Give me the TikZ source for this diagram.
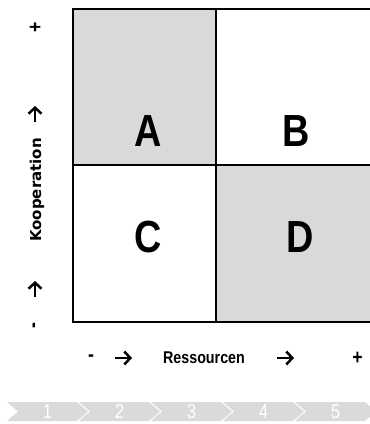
\documentclass[tikz,border=0pt]{standalone}
\usepackage{fontspec}
\setmainfont{Liberation Sans}
\newfontfamily\narrowfont{Liberation Sans}[FakeStretch=0.84]
\newfontfamily\wideboldfont{DejaVu Sans}
\usepackage{tikz}
\usetikzlibrary{arrows.meta, positioning}
\definecolor{cellgray}{HTML}{D9D9D9}
\definecolor{chevgray}{HTML}{DADADA}

\begin{document}
\begin{tikzpicture}[
  x=1pt, y=-1pt,
  cell/.style={draw=black, line width=1.8pt, inner sep=0pt, anchor=north west},
  letter/.style={font=\narrowfont\bfseries\fontsize{45}{45}\selectfont, inner sep=0pt},
  axtext/.style={font=\narrowfont\bfseries\fontsize{17}{17}\selectfont, inner sep=0pt},
  axsign/.style={font=\narrowfont\bfseries\fontsize{21}{21}\selectfont, inner sep=0pt},
  axname/.style={font=\wideboldfont\bfseries\fontsize{15}{15}\selectfont, inner sep=0pt},
  axarrow/.style={line width=2.5pt, -{Straight Barb[length=6pt, width=13pt, line width=2.5pt]}},
  chev/.style={fill=chevgray},
  chevnum/.style={text=white, inner sep=0pt, font=\narrowfont\fontsize{20}{20}\selectfont}
]
\useasboundingbox (0,0) rectangle (370,424);

% Matrix cells
\node[cell, fill=cellgray, minimum width=143pt, minimum height=156pt] (cA) at (72,8) {};
\node[cell, minimum width=160pt, minimum height=156pt] (cB) at (215,8) {};
\node[cell, minimum width=143pt, minimum height=157pt] (cC) at (72,164) {};
\node[cell, fill=cellgray, minimum width=160pt, minimum height=157pt] (cD) at (215,164) {};

\node[letter] (lA) at (148,131) {A};
\node[letter] (lB) at (296,131) {B};
\node[letter] (lC) at (148,237) {C};
\node[letter] (lD) at (300,237) {D};

% Vertical axis
\node[axsign, rotate=90] (vplus) at (36,27.5) {+};
\node[axname, rotate=90] (vname) at (37,190) {Kooperation};
\node[axsign, rotate=90] (vminus) at (36,326) {-};
\coordinate (vu1s) at (35,122);
\coordinate (vu1e) at (35,106);
\coordinate (vu2s) at (35,297);
\coordinate (vu2e) at (35,281);
\draw[axarrow] (vu1s) -- (vu1e);
\draw[axarrow] (vu2s) -- (vu2e);

% Horizontal axis
\node[axsign] (hminus) at (91,358) {-};
\node[axtext] (hname) at (204,358) {Ressourcen};
\node[axsign] (hplus) at (357.5,358.5) {+};
\coordinate (hr1s) at (115,358);
\coordinate (hr1e) at (132,358);
\coordinate (hr2s) at (277,358);
\coordinate (hr2e) at (294,358);
\draw[axarrow] (hr1s) -- (hr1e);
\draw[axarrow] (hr2s) -- (hr2e);

% Process chevrons
\fill[chev] (7,402) -- ++(70,0) -- ++(11,9.5) -- ++(-11,9.5) -- ++(-70,0) -- ++(11,-9.5) -- cycle;
\fill[chev] (79,402) -- ++(70,0) -- ++(11,9.5) -- ++(-11,9.5) -- ++(-70,0) -- ++(11,-9.5) -- cycle;
\fill[chev] (151,402) -- ++(70,0) -- ++(11,9.5) -- ++(-11,9.5) -- ++(-70,0) -- ++(11,-9.5) -- cycle;
\fill[chev] (223,402) -- ++(70,0) -- ++(11,9.5) -- ++(-11,9.5) -- ++(-70,0) -- ++(11,-9.5) -- cycle;
\fill[chev] (295,402) -- ++(70,0) -- ++(11,9.5) -- ++(-11,9.5) -- ++(-70,0) -- ++(11,-9.5) -- cycle;
\node[chevnum] (n1) at (47.5,411.5) {1};
\node[chevnum] (n2) at (119.5,411.5) {2};
\node[chevnum] (n3) at (191.5,411.5) {3};
\node[chevnum] (n4) at (263.5,411.5) {4};
\node[chevnum] (n5) at (335.5,411.5) {5};

\end{tikzpicture}
\end{document}
